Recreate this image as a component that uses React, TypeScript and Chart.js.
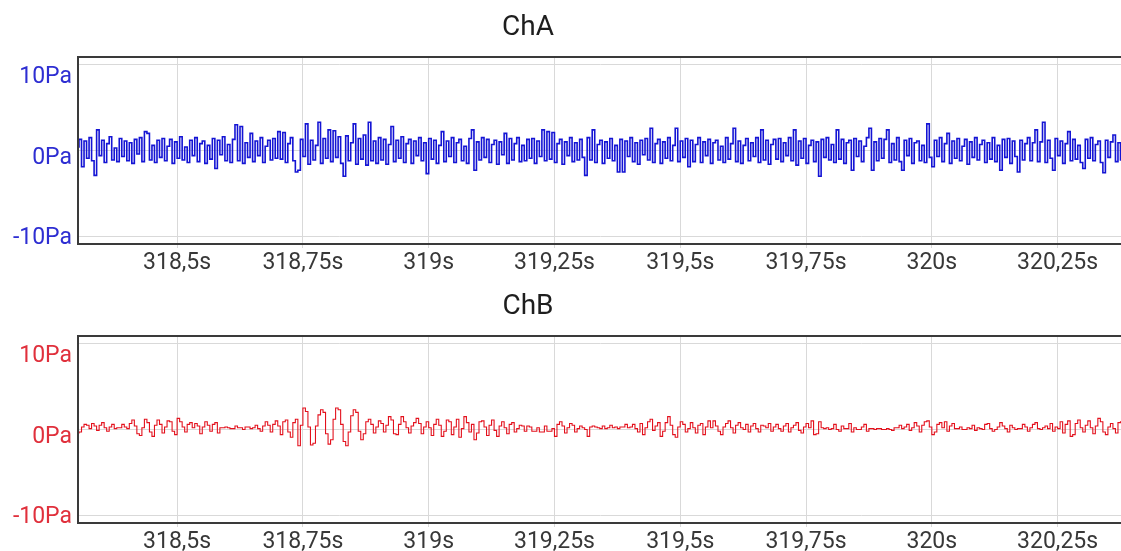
import { useEffect, useRef } from "react";
import { Chart, registerables } from "chart.js";

Chart.register(...registerables);

// ---- Data -------------------------------------------------------------
const SAMPLE_START = 318.3; // s, time of the first sample
const SAMPLE_STEP = 0.005; // s between samples
const X_MIN = 318.303;
const X_MAX = 320.38;
const Y_MIN = -10.9;
const Y_MAX = 10.9;
// range of the label axis, so that the Pa labels sit where the reference prints them
const Y_LABEL_MIN = -10.68;
const Y_LABEL_MAX = 12.55;

const xTickValues = [318.5, 318.75, 319, 319.25, 319.5, 319.75, 320, 320.25];
const xTickLabels = ["318,5s", "318,75s", "319s", "319,25s", "319,5s", "319,75s", "320s", "320,25s"];
const yTickValues = [-10, 0, 10];
const yTickLabels = ["-10Pa", "0Pa", "10Pa"];

const chATitle = "ChA";
const chBTitle = "ChB";

// ChA pressure samples (Pa)
const chAValues = [
  0.4, 1.3, -1.9, 1.1, -0.9, 1.5, -1.2, -2.9, 2.4, -0.6, 1.2, -1.4, 0.8, 1.6, -1.1, 0.3, -1.3, 1.4, -0.7, 1.1,
  -1.2, 0.9, -1.5, 1.3, -0.4, 1.5, -1.3, 2.2, 2.0, -1.1, 0.6, -1.4, 1.2, -0.8, 1.4, -1.2, 0.5, 1.3, -1.5, 1.0,
  -0.9, 1.6, -1.1, 0.4, -1.4, 1.2, -0.6, 1.5, -1.3, 0.8, 1.1, -1.5, 0.6, -1.0, 1.4, -2.1, 1.2, -0.5, 1.6, -1.2,
  0.7, -1.4, 1.3, 3.0, -1.2, 2.8, -1.5, 0.9, -0.8, 2.0, -1.3, 1.1, -0.6, 1.5, -1.4, 0.5, 1.2, -1.1, 1.4, -0.9,
  2.2, -1.0, 2.1, -1.4, 0.8, 1.5, -1.2, -2.5, -2.3, 1.3, -0.7, 3.1, -1.6, 1.2, -1.1, 0.6, 3.3, -1.5, 1.4, -0.9,
  2.4, -1.3, 2.3, -0.8, 1.6, -1.5, -3.0, 1.7, -1.2, 0.9, 3.1, -1.6, 1.4, -1.0, 1.8, -1.7, 3.3, -1.2, 1.1, -1.5,
  1.5, -1.1, 1.3, -1.6, 0.7, 2.8, -1.3, 1.2, -0.9, 1.6, -1.4, 0.8, 1.3, -1.5, 1.1, -0.6, 1.5, -1.2, 0.9, -2.7,
  1.4, -1.0, 1.2, -1.5, 0.6, 2.2, -1.3, 1.1, -0.7, 1.5, -1.4, 0.9, 1.3, -1.2, 0.5, -1.5, 1.4, 2.4, -2.3, 1.0,
  -1.1, 1.5, -0.8, 1.3, -1.4, 0.7, 1.2, -1.6, 1.0, -0.5, 2.0, -1.5, 1.4, -1.1, 0.8, 1.5, -1.3, 0.6, -1.2, 1.3,
  -0.9, 1.4, -1.5, 1.1, -0.7, 2.4, -1.2, 2.2, -1.0, 2.1, -1.4, 0.8, 1.3, -1.6, 1.0, -0.6, 1.5, -1.3, 0.9, -1.1,
  1.3, -0.8, -2.9, 1.5, -1.1, 2.4, -1.4, 0.7, 1.2, -1.5, 1.0, -0.9, 1.4, -1.2, 0.6, -2.5, 1.3, -2.5, 1.1, -0.7,
  1.5, -1.3, 0.9, -1.6, 1.2, -0.5, 1.4, -1.1, 2.6, -1.4, 0.8, 1.3, -1.5, 1.0, -0.9, 1.5, -1.2, 0.6, 2.6, -1.3,
  1.1, -0.8, 1.4, -1.9, 1.2, -1.3, 0.7, 1.5, -1.4, 1.0, -0.6, 1.3, -1.5, 0.9, 1.2, -1.1, 0.5, -1.4, 1.5, -1.0,
  0.8, 2.6, -1.3, 1.1, -1.5, 0.6, 1.4, -1.2, 0.9, -0.7, 1.5, -1.4, 2.4, -1.1, 1.2, -1.6, 0.7, 1.3, -1.0, 1.4,
  -1.3, 0.9, -0.6, 1.5, -1.2, 2.4, -1.7, 1.1, -0.9, 1.4, -1.5, 0.6, 1.2, -1.3, 1.0, -3.0, 1.3, -0.8, 1.5, -1.1,
  0.7, -1.4, 2.4, -1.0, 1.3, -1.5, 0.9, 1.2, -2.3, 1.4, -0.7, 1.1, -1.3, 0.5, 1.5, 2.6, -2.3, 1.0, -1.2, 1.4,
  -0.9, 1.3, 2.4, -1.4, 0.8, -1.1, 1.5, -1.3, -2.3, 1.2, -0.6, 1.4, -1.5, 0.9, 1.1, -1.2, 0.6, -1.4, 3.1, -0.8,
  -1.9, 1.2, -0.7, 1.5, -1.3, 0.8, 2.0, -1.5, 1.1, -0.9, 1.4, -1.2, 0.5, 1.3, -1.6, 1.0, -0.8, 1.5, -1.1, 0.7,
  1.2, -1.4, 0.9, -1.0, 1.5, -1.3, 0.6, -2.3, 1.3, -0.8, 1.4, -1.5, 1.1, -0.7, -2.5, 1.2, -1.1, 0.8, 1.5, -1.2,
  0.9, 2.4, -1.3, 1.0, 3.3, -1.4, 1.2, -0.9, -2.3, 1.4, -0.6, 1.1, -1.5, 0.8, 2.2, -1.2, 1.3, -1.0, 0.6, -1.4,
  -2.1, 1.3, -0.9, 1.5, -1.2, 0.7, 1.1, -1.4, -2.6, 1.2, -0.8, 1.0, 1.8, -1.3, 0.9, -1.1, 1.2, -0.7, 1.4, -1.0,
];

// ChB pressure samples (Pa)
const chBValues = [
  -0.4, -0.3, 0.3, 0.6, 0.5, 0.1, 0.7, 0.4, -0.1, 0.5, 0.8, 0.2, -0.2, 0.3, 0.6, 0.1, 0.2, 0.2, 0.6, 0.3,
  0.1, 0.7, 1.1, 0.4, -0.5, -0.7, 0.2, 1.2, 0.8, -0.3, -0.8, 0.5, 1.1, 0.6, -0.4, 0.3, 1.0, 0.9, -0.2, -0.6,
  1.3, 0.9, 0.3, -0.3, 0.6, 0.8, 0.2, 0.7, 0.4, -0.5, 0.3, 0.9, 0.5, -0.2, 0.6, 0.8, -0.4, 0.2, 0.2, 0.3,
  0.2, 0.1, 0.1, 0.4, 0.2, 0.2, 0.0, 0.3, 0.3, 0.1, 0.2, 0.5, 0.1, -0.2, 0.4, 0.9, 0.5, -0.3, 0.6, 1.0,
  0.4, -0.6, 0.9, 1.1, -0.3, -0.9, 0.8, 1.2, -1.9, 0.5, 2.5, 2.1, 0.3, -1.8, -1.6, 0.4, 1.7, 2.3, 2.0, -0.5,
  -1.7, -1.2, 1.2, 2.5, 2.3, 0.6, -1.4, -1.9, -0.3, 1.6, 2.3, 2.0, -0.2, -1.2, -0.5, 0.9, 1.2, 0.6, -0.4, 0.3,
  1.0, 0.7, -0.3, 0.5, 1.5, 1.1, -0.5, -0.6, 0.6, 1.5, 0.9, 0.2, -0.4, 0.4, 0.8, 1.3, 0.7, -0.5, 0.3, 0.9,
  0.2, -0.7, 0.6, 1.2, 0.5, -0.8, -0.2, 1.1, 0.9, -0.6, 0.3, 1.2, -0.9, 0.1, 1.5, 0.8, -0.3, 0.6, -1.2, -0.4,
  0.9, 1.0, 0.3, -0.7, 0.5, 1.1, -0.1, -0.8, 0.4, 0.9, 0.2, -0.5, 0.6, 0.8, -0.3, 0.1, 0.5, 0.4, -0.2, 0.4,
  0.3, -0.2, -0.2, 0.2, -0.3, -0.3, 0.4, -0.2, -0.2, 0.1, -0.8, 0.6, 0.9, 0.4, -0.4, 0.2, 0.7, 0.5, -0.3, 0.1,
  0.4, 0.2, 0.0, -0.8, 0.3, 0.4, 0.3, 0.2, 0.1, 0.4, 0.1, 0.2, 0.5, 0.2, 0.3, 0.1, 0.3, 0.3, 0.6, 0.2,
  0.3, 0.6, 0.1, -0.3, 0.7, -0.6, 0.2, 0.9, 1.2, -0.1, 0.4, 0.8, -0.8, -0.2, 0.8, 1.5, 0.5, -0.6, -0.9, 0.3,
  0.9, 0.6, -0.3, 0.1, 0.8, 0.2, -0.4, 0.5, 0.7, -0.6, 0.3, 1.0, 0.2, 1.0, 0.4, -0.2, -0.6, 0.3, 0.7, 1.0,
  0.2, -0.4, 0.5, 0.8, 0.2, 0.0, 0.6, -0.3, 0.4, 0.7, 0.1, -0.3, 0.5, 0.4, 0.2, 0.7, -0.2, 0.3, 0.6, 0.1,
  -0.2, 0.4, 0.7, -0.3, 0.2, 0.5, 0.8, -0.1, -0.4, 0.3, 0.7, 0.2, 1.0, -0.6, -0.5, 0.9, 0.2, 0.1, 0.2, 0.0,
  0.1, 0.6, 0.0, -0.2, 0.4, 0.1, 0.1, 0.7, -0.3, 0.2, 0.0, 0.0, 0.3, 0.6, -0.2, 0.1, 0.1, 0.0, 0.1, 0.1,
  0.0, 0.0, 0.1, 0.0, -0.1, 0.2, 0.2, 0.5, 0.1, 0.3, 0.6, -0.1, 0.2, 0.8, 0.4, -0.3, 0.5, 0.9, 1.0, 0.3,
  -0.6, -0.3, 0.6, 0.8, 0.2, 0.9, -0.2, 0.4, 0.7, 0.1, 0.1, 0.3, 0.0, 0.0, 0.2, 0.1, 0.5, -0.1, 0.2, 0.1,
  0.0, 0.6, 0.7, 0.1, -0.2, 0.0, 0.3, 0.8, 0.4, 0.1, -0.3, 0.5, 0.2, 0.0, 0.1, 0.1, 0.6, 0.3, -0.2, 0.2,
  0.6, 0.8, 0.1, 0.0, 0.2, 0.4, 0.1, 0.7, -0.2, 0.3, 0.1, 0.9, -0.4, 0.6, 1.0, -0.8, -0.6, 0.7, 1.1, 0.2,
  -0.3, 0.5, 1.0, 0.2, -0.5, 0.4, 1.3, 0.9, -0.3, -0.6, 0.3, 0.7, 0.1, -0.4, 0.8, 0.9, 0.5, 0.2, 0.6, 0.4,
];

// ---- Chart setup ------------------------------------------------------
const CANVAS_W = 1125;
const CANVAS_H = 285;
const FONT = "Roboto, 'Noto Sans', Arial, sans-serif";

function makeConfig(values: number[], lineColor: string, tickColor: string, title: string, lineWidth: number): any {
  const points = values.map((v, i) => ({ x: SAMPLE_START + i * SAMPLE_STEP, y: v }));

  const framePlugin = {
    id: "frameAndTitle",
    afterDatasetsDraw(chart: any) {
      const { ctx, chartArea } = chart;
      ctx.save();
      ctx.strokeStyle = "#3a3a3a";
      ctx.lineWidth = 2;
      ctx.strokeRect(chartArea.left, chartArea.top, chartArea.right - chartArea.left, chartArea.bottom - chartArea.top);
      ctx.restore();
    },
    afterDraw(chart: any) {
      const { ctx, chartArea } = chart;
      ctx.save();
      ctx.font = `28px ${FONT}`;
      ctx.fillStyle = "#1e1e1e";
      ctx.textAlign = "center";
      ctx.textBaseline = "middle";
      ctx.fillText(title, 528, chartArea.top - 29);
      ctx.restore();
    },
  };

  return {
    type: "line",
    data: {
      datasets: [
        {
          data: points,
          yAxisID: "y",
          borderColor: lineColor,
          borderWidth: lineWidth,
          pointRadius: 0,
          stepped: true,
          fill: false,
        },
      ],
    },
    options: {
      animation: false,
      responsive: false,
      events: [],
      layout: { padding: { top: 57, right: 2, left: 0, bottom: 0 } },
      plugins: {
        legend: { display: false },
        tooltip: { enabled: false },
        title: { display: false },
      },
      scales: {
        x: {
          type: "linear",
          min: X_MIN,
          max: X_MAX,
          afterBuildTicks: (scale: any) => {
            scale.ticks = xTickValues.map((v) => ({ value: v }));
          },
          afterFit: (scale: any) => {
            scale.height = 41;
          },
          ticks: {
            autoSkip: false,
            maxRotation: 0,
            padding: 1,
            color: "#383838",
            font: { family: FONT, size: 23 },
            callback: (value: number) => {
              const idx = xTickValues.indexOf(value);
              return idx >= 0 ? xTickLabels[idx] : "";
            },
          },
          grid: { color: "#d9d9d9", lineWidth: 1, tickLength: 4, drawTicks: true },
          border: { display: false },
        },
        y: {
          type: "linear",
          position: "left",
          min: Y_MIN,
          max: Y_MAX,
          afterBuildTicks: (scale: any) => {
            scale.ticks = yTickValues.map((v) => ({ value: v }));
          },
          afterFit: (scale: any) => {
            scale.width = 0;
          },
          ticks: { display: false },
          grid: { color: "#d9d9d9", lineWidth: 1, drawTicks: false },
          border: { display: false },
        },
        yLabels: {
          type: "linear",
          position: "left",
          min: Y_LABEL_MIN,
          max: Y_LABEL_MAX,
          afterBuildTicks: (scale: any) => {
            scale.ticks = yTickValues.map((v) => ({ value: v }));
          },
          afterFit: (scale: any) => {
            scale.width = 78;
          },
          ticks: {
            padding: 6,
            color: tickColor,
            font: { family: FONT, size: 23 },
            callback: (value: number) => {
              const idx = yTickValues.indexOf(value);
              return idx >= 0 ? yTickLabels[idx] : "";
            },
          },
          grid: { display: false, drawTicks: false },
          border: { display: false },
        },
      },
    },
    plugins: [framePlugin],
  };
}

function ChannelChart({ values, lineColor, tickColor, title, top, lineWidth }: { values: number[]; lineColor: string; tickColor: string; title: string; top: number; lineWidth: number }) {
  const ref = useRef<HTMLCanvasElement | null>(null);
  useEffect(() => {
    if (!ref.current) return;
    const chart = new Chart(ref.current, makeConfig(values, lineColor, tickColor, title, lineWidth));
    return () => chart.destroy();
  }, [values, lineColor, tickColor, title, lineWidth]);
  return (
    <canvas
      ref={ref}
      width={CANVAS_W}
      height={CANVAS_H}
      style={{ position: "absolute", left: 0, top, width: CANVAS_W, height: CANVAS_H }}
    />
  );
}

export default function App() {
  return (
    <div style={{ position: "fixed", left: 0, top: 0, width: "100vw", height: "100vh", overflow: "hidden", background: "#ffffff" }}>
      <ChannelChart values={chAValues} lineColor="#1414d4" tickColor="#2e2ed2" title={chATitle} top={0} lineWidth={1.6} />
      <ChannelChart values={chBValues} lineColor="#e3101c" tickColor="#e0303c" title={chBTitle} top={279} lineWidth={1.1} />
    </div>
  );
}
